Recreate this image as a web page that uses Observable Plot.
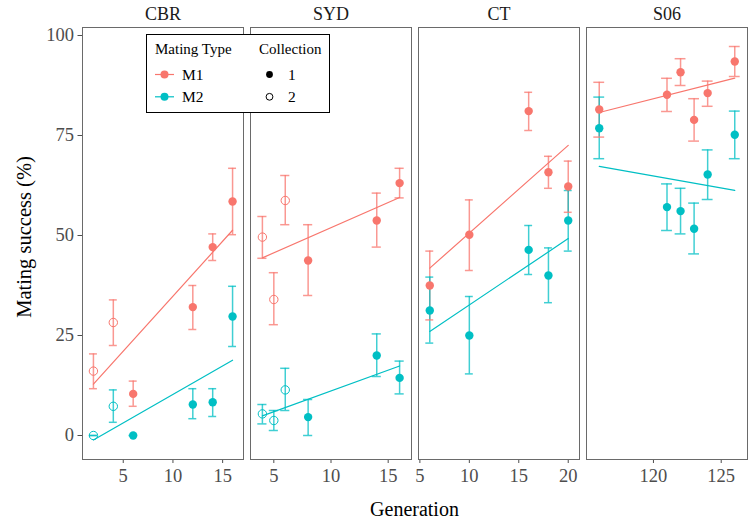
<!DOCTYPE html>
<html><head><meta charset="utf-8">
<script src="https://cdn.jsdelivr.net/npm/d3@7"></script>
<script src="https://cdn.jsdelivr.net/npm/@observablehq/plot@0.6"></script>
<style>
body{margin:0;background:#fff;}
#chart{position:relative;width:749px;height:521px;font-family:"Liberation Serif",serif;background:#fff;}
#chart svg{position:absolute;left:0;top:0;}
#chart svg text{font-family:"Liberation Serif",serif;}
#chart g[aria-label="x-axis tick label"], #chart g[aria-label="y-axis tick label"]{font-size:18.5px;}
</style></head><body><div id="chart"></div>
<script>
// ---- data ----
const sites = ["CBR", "SYD", "CT", "S06"];
const matingTypes = ["M1", "M2"];
const collections = ["1", "2"];
const typeColors = ["#F8766D", "#00BFC4"];
const yTicks = [0, 25, 50, 75, 100];
const xTickValues = [[5, 10, 15], [5, 10, 15], [5, 10, 15, 20], [120, 125]];
const xDomains = [[0.9, 17.1], [2.96, 17.04], [4.86, 21.14], [115.06, 126.94]];

const site = [
  "CBR","CBR","CBR","CBR","CBR","CBR","CBR","CBR","CBR","CBR","CBR","CBR",
  "SYD","SYD","SYD","SYD","SYD","SYD","SYD","SYD","SYD","SYD","SYD","SYD",
  "CT","CT","CT","CT","CT","CT","CT","CT","CT","CT",
  "S06","S06","S06","S06","S06","S06","S06","S06","S06","S06","S06","S06"];
const generation = [
  2,4,6,12,14,16, 2,4,6,12,14,16,
  4,5,6,8,14,16, 4,5,6,8,14,16,
  6,10,16,18,20, 6,10,16,18,20,
  116,121,122,123,124,126, 116,121,122,123,124,126];
const matingType = [
  "M1","M1","M1","M1","M1","M1","M2","M2","M2","M2","M2","M2",
  "M1","M1","M1","M1","M1","M1","M2","M2","M2","M2","M2","M2",
  "M1","M1","M1","M1","M1","M2","M2","M2","M2","M2",
  "M1","M1","M1","M1","M1","M1","M2","M2","M2","M2","M2","M2"];
const collection = [
  "2","2","1","1","1","1","2","2","1","1","1","1",
  "2","2","2","1","1","1","2","2","2","1","1","1",
  "1","1","1","1","1","1","1","1","1","1",
  "1","1","1","1","1","1","1","1","1","1","1","1"];
const success = [
  16.1,28.25,10.4,32.1,47.1,58.5, 0,7.3,0,7.75,8.3,29.75,
  49.6,34,58.75,43.75,53.75,63.1, 5.4,3.75,11.4,4.6,20,14.4,
  37.5,50.2,81.1,65.8,62.25, 31.25,25,46.4,40,53.75,
  81.5,85.2,90.8,78.9,85.6,93.5, 76.8,57.1,56.1,51.7,65.25,75.2];
const lower = [
  11.7,22.5,7.3,26.5,43.75,50.2, 0,3.3,0,4.2,4.75,22.25,
  44.3,27.7,52.7,35,47.1,59.4, 2.9,1.25,6.25,0,14.75,10.4,
  28.9,41.25,76.25,61.8,55.8, 23.1,15.4,40.25,33.2,46.1,
  74.6,81,87.5,73.6,82.3,89.75, 69.2,51.25,50.4,45.4,59,69.2];
const upper = [
  20.4,33.9,13.6,37.5,50.4,66.8, 0,11.4,0,11.7,11.7,37.3,
  54.75,40.7,65,52.7,60.6,66.8, 7.75,6.25,16.8,9,25.4,18.6,
  46.1,58.9,85.8,69.8,68.6, 39.6,34.75,52.5,46.9,61.25,
  88.3,89.3,94.2,84.2,88.6,97.25, 84.6,62.9,61.8,58.1,71.4,81.1];

const rows = site.map((s, i) => ({
  site: s, gen: generation[i], type: matingType[i], coll: collection[i],
  mean: success[i], lo: lower[i], hi: upper[i]
}));

// ---- layout ----
const W = 749, H = 521;
const panelX = [[82, 243], [250, 411], [418, 579], [586, 747]];
const panelTop = 27, panelBottom = 459;
const capHalf = 0.4;
const chart = document.getElementById("chart");

sites.forEach((s, i) => {
  const data = rows.filter(d => d.site === s);
  const [L, R] = panelX[i];
  const p = Plot.plot({
    width: W, height: H,
    marginLeft: L, marginRight: W - R, marginTop: panelTop, marginBottom: H - panelBottom,
    style: {background: "transparent", fontFamily: "Liberation Serif", fontSize: "18.5px", color: "#4d4d4d", overflow: "visible"},
    x: {domain: xDomains[i], ticks: xTickValues[i], tickSize: 4, tickPadding: 5, label: null, tickFormat: d => String(d)},
    y: {domain: [-6, 102], ticks: yTicks, tickSize: 4.5, tickPadding: 4, label: null, axis: i === 0 ? "left" : null},
    color: {domain: matingTypes, range: typeColors},
    marks: [
      Plot.frame({stroke: "#6a6a6a", strokeWidth: 1}),
      Plot.linearRegressionY(data, {x: "gen", y: "mean", stroke: "type", ci: 0, strokeWidth: 1.2}),
      Plot.ruleX(data, {x: "gen", y1: "lo", y2: "hi", stroke: "type", strokeOpacity: 0.75, strokeWidth: 1.5}),
      Plot.ruleY(data, {y: "hi", x1: d => d.gen - capHalf, x2: d => d.gen + capHalf, stroke: "type", strokeOpacity: 0.75, strokeWidth: 1.5}),
      Plot.ruleY(data, {y: "lo", x1: d => d.gen - capHalf, x2: d => d.gen + capHalf, stroke: "type", strokeOpacity: 0.75, strokeWidth: 1.5}),
      Plot.dot(data.filter(d => d.coll === "1"), {x: "gen", y: "mean", fill: "type", r: 4.2}),
      Plot.dot(data.filter(d => d.coll === "2"), {x: "gen", y: "mean", stroke: "type", fill: "none", r: 4.2, strokeWidth: 1}),
      Plot.text([s], {text: d => d, frameAnchor: "top", lineAnchor: "bottom", dy: -8, fontSize: 18, fontWeight: "normal", fill: "#1a1a1a"})
    ]
  });
  chart.appendChild(p);
});

// ---- titles & legend overlay ----
const svg = d3.select(chart).append("svg").attr("width", W).attr("height", H)
  .style("font-family", "Liberation Serif").style("overflow", "visible");

svg.append("text").attr("x", 414.5).attr("y", 516).attr("text-anchor", "middle")
  .attr("font-size", 20).attr("fill", "#000").text("Generation");
svg.append("text").attr("transform", "translate(31,237) rotate(-90)").attr("text-anchor", "middle")
  .attr("font-size", 20.5).attr("fill", "#000").text("Mating success (%)");

const lg = svg.append("g");
lg.append("rect").attr("x", 146.5).attr("y", 34.5).attr("width", 183).attr("height", 78)
  .attr("fill", "#fff").attr("stroke", "#000").attr("stroke-width", 1);
lg.append("text").attr("x", 155).attr("y", 54).attr("font-size", 15).text("Mating Type");
lg.append("text").attr("x", 259).attr("y", 54).attr("font-size", 15).text("Collection");
matingTypes.forEach((t, i) => {
  const y = 74.5 + i * 22.3;
  lg.append("line").attr("x1", 155).attr("x2", 174).attr("y1", y).attr("y2", y)
    .attr("stroke", typeColors[i]).attr("stroke-width", 1.2);
  lg.append("circle").attr("cx", 164.5).attr("cy", y).attr("r", 4).attr("fill", typeColors[i]);
  lg.append("text").attr("x", 182).attr("y", y).attr("dy", "0.35em").attr("font-size", 15.5).text(t);
});
collections.forEach((c, i) => {
  const y = 74.5 + i * 22.3;
  lg.append("circle").attr("cx", 269.5).attr("cy", y).attr("r", 3.4)
    .attr("fill", i === 0 ? "#000" : "none").attr("stroke", "#000").attr("stroke-width", i === 0 ? 0 : 1);
  lg.append("text").attr("x", 288).attr("y", y).attr("dy", "0.35em").attr("font-size", 15.5).text(c);
});
</script></body></html>
